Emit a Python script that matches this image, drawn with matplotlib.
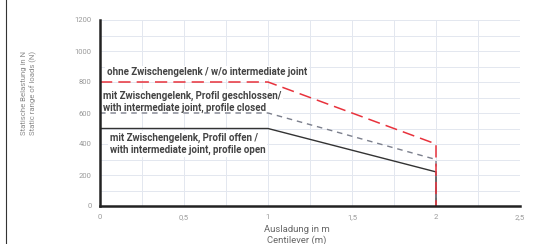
import matplotlib
matplotlib.use("Agg")
import matplotlib.pyplot as plt
from matplotlib.lines import Line2D

# data
x_pts = [0, 1, 2, 2]
load_wo_joint = [800, 800, 400, 0]
load_closed = [600, 600, 300, 0]
load_open = [500, 500, 220, 0]

x_ticks = [0, 0.5, 1, 1.5, 2, 2.5]
x_tick_labels = ["0", "0,5", "1", "1,5", "2", "2,5"]
y_ticks = [0, 200, 400, 600, 800, 1000, 1200]

label_wo = "ohne Zwischengelenk / w/o intermediate joint"
label_closed = "mit Zwischengelenk, Profil geschlossen/\nwith intermediate joint, profile closed"
label_open = "mit Zwischengelenk, Profil offen /\nwith intermediate joint, profile open"

plt.rcParams["font.family"] = ["Roboto", "DejaVu Sans"]

fig = plt.figure(figsize=(5.34, 2.44), dpi=100)
ax = fig.add_axes([100 / 534, 1 - 206 / 244, 420 / 534, 186 / 244])

ax.set_xlim(0, 2.5)
ax.set_ylim(0, 1200)
ax.set_xticks([i * 0.25 for i in range(11)], minor=True)
ax.set_yticks(range(0, 1201, 100), minor=True)
ax.grid(True, which="both", color="#e3e7ef", linewidth=0.7)
ax.set_axisbelow(True)

ax.plot(x_pts, load_open, color="#333333", linewidth=1.0, zorder=6)
ax.plot(x_pts, load_closed, color="#7b7f8c", linewidth=1.0, dashes=(4, 3.5), zorder=6)
ax.plot(x_pts, load_wo_joint, color="#e8323c", linewidth=1.1, dashes=(8, 4), zorder=7)

for s in ["top", "right"]:
    ax.spines[s].set_visible(False)
for s in ["left", "bottom"]:
    ax.spines[s].set_linewidth(1.8)
    ax.spines[s].set_color("#222222")
    ax.spines[s].set_zorder(8)

ax.set_xticks(x_ticks)
ax.set_xticklabels(x_tick_labels)
ax.set_yticks(y_ticks)
ax.tick_params(which="both", length=0, labelsize=5.5, labelcolor="#9a9a9a", pad=6)

ax.set_xlabel("Ausladung in m\nCentilever (m)", fontsize=6.8, color="#666666",
              linespacing=1.25)
ax.xaxis.set_label_coords((297 - 100) / 420, -0.1, transform=ax.transAxes)
ax.xaxis.label.set_va("top")
ax.set_ylabel("Statische Belastung in N\nStatic range of loads (N)", fontsize=5.6,
              color="#8a8a8a", linespacing=1.45)
ax.yaxis.set_label_coords(-63 / 420, 0.61)

box = dict(facecolor="white", edgecolor="none", pad=1.2)
ax.text(0.042, 862, label_wo, fontsize=7, fontweight="bold", color="#444444",
        va="center", ha="left", bbox=box, zorder=5)
ax.text(0.018, 674, label_closed, fontsize=7, fontweight="bold", color="#444444",
        va="center", ha="left", linespacing=1.2, bbox=box, zorder=5)
ax.text(0.06, 400, label_open, fontsize=7, fontweight="bold", color="#444444",
        va="center", ha="left", linespacing=1.25, bbox=box, zorder=5)

# left frame line of the figure
fig.add_artist(Line2D([6 / 534, 6 / 534], [0, 1], color="#333333", linewidth=0.8))

fig.savefig("out.png", dpi=100)
